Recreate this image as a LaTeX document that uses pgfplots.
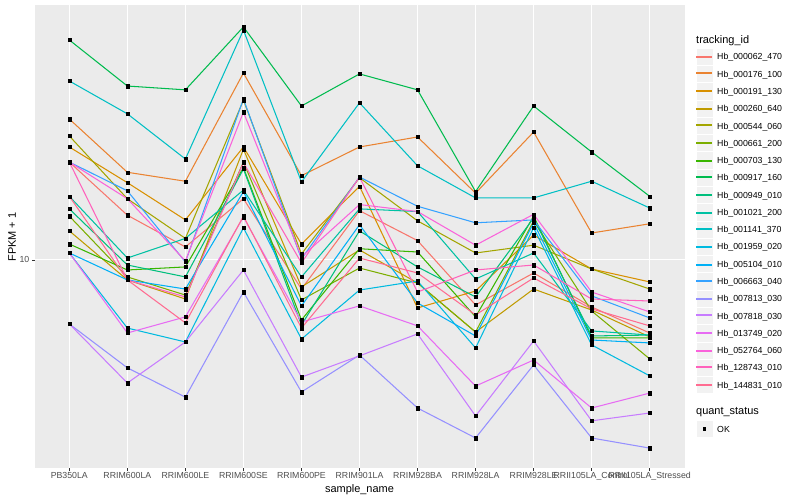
\documentclass[border=0pt]{standalone}
\usepackage{pgfplots}
\pgfplotsset{compat=1.18}
\usepackage{pgfplotstable}
\usepackage{fontspec}
\setmainfont{Liberation Sans}
\definecolor{c1}{HTML}{F8766D}
\definecolor{c2}{HTML}{EA8331}
\definecolor{c3}{HTML}{D89000}
\definecolor{c4}{HTML}{C09B00}
\definecolor{c5}{HTML}{A3A500}
\definecolor{c6}{HTML}{7CAE00}
\definecolor{c7}{HTML}{39B600}
\definecolor{c8}{HTML}{00BB4E}
\definecolor{c9}{HTML}{00BF7D}
\definecolor{c10}{HTML}{00C1A3}
\definecolor{c11}{HTML}{00BFC4}
\definecolor{c12}{HTML}{00BAE0}
\definecolor{c13}{HTML}{00B0F6}
\definecolor{c14}{HTML}{35A2FF}
\definecolor{c15}{HTML}{9590FF}
\definecolor{c16}{HTML}{C77CFF}
\definecolor{c17}{HTML}{E76BF3}
\definecolor{c18}{HTML}{FA62DB}
\definecolor{c19}{HTML}{FF62BC}
\definecolor{c20}{HTML}{FF6C91}
\definecolor{gbg}{HTML}{EBEBEB}
\definecolor{gkey}{HTML}{F2F2F2}
\definecolor{g30}{HTML}{4D4D4D}
\definecolor{g20}{HTML}{333333}
\newcommand\tickfont{\fontsize{8.8}{10}\selectfont}
\newcommand\titlefont{\fontsize{11}{13}\selectfont}
\pgfplotstableread{
x s1 s2 s3 s4 s5 s6 s7 s8 s9 s10 s11 s12 s13 s14 s15 s16 s17 s18 s19 s20
0 21.2 29.5 23.8 12.5 25.9 14.0 11.3 54.1 14.8 16.3 39.5 10.55 10.55 21.2 6.12 6.12 10.55 21.2 21.2 16.3
1 14.1 19.6 18.1 8.58 16.0 8.78 9.26 38.0 9.62 10.15 30.7 5.93 8.58 17.0 4.37 3.89 5.71 16.0 8.58 8.58
2 11.05 18.3 13.6 7.41 11.8 7.64 9.48 36.9 8.78 11.8 21.7 5.33 8.00 9.85 3.49 5.33 6.46 9.92 7.53 6.17
3 16.0 42.0 23.8 23.4 34.1 21.2 20.3 59.8 20.1 17.1 58.4 12.8 16.9 34.4 7.82 9.26 13.9 31.1 21.1 14.0
4 8.00 19.1 11.3 8.13 10.47 7.36 6.31 32.6 6.07 8.78 18.2 5.45 7.03 10.08 3.63 4.07 6.21 10.23 9.77 5.93
5 14.6 23.8 17.6 10.8 18.8 9.40 10.9 41.7 12.5 14.8 33.4 7.94 13.1 18.9 4.82 4.79 7.03 15.3 18.9 10.15
6 11.6 25.7 6.92 8.38 13.5 8.38 10.63 36.9 9.48 14.5 20.6 8.51 7.19 15.1 3.21 5.67 6.03 14.5 7.82 9.05
7 7.08 16.7 7.88 5.75 10.55 5.75 6.46 16.9 7.53 8.64 16.1 5.09 5.58 13.3 2.55 3.02 3.80 11.2 9.26 6.56
8 9.05 26.7 12.1 8.00 11.2 13.5 14.0 32.6 13.8 10.55 16.1 12.8 13.3 13.6 4.47 5.37 4.64 14.2 9.62 8.71
9 6.97 12.3 9.33 6.81 9.33 6.76 5.50 22.9 5.58 5.80 18.3 5.21 5.41 7.59 2.55 2.91 3.21 7.82 7.41 6.87
10 5.71 13.2 8.45 5.54 8.00 4.68 5.50 16.3 5.62 5.62 14.9 4.11 5.29 6.41 2.36 3.09 3.60 6.71 7.30 6.03
}\data
\begin{document}
\begin{tikzpicture}
\path[use as bounding box] (-34.5bp,-31.5bp) rectangle (765.5bp,468.5bp);
\begin{axis}[
  scale only axis, width=650bp, height=463bp,
  xmin=-0.6, xmax=10.6,
  ymode=log, ymin=2.018, ymax=70.5,
  axis background/.style={fill=gbg},
  axis line style={draw=none},
  xtick={0,...,10},
  xticklabels={PB350LA,RRIM600LA,RRIM600LE,RRIM600SE,RRIM600PE,RRIM901LA,RRIM928BA,RRIM928LA,RRIM928LE,RRII105LA\_Control,RRII105LA\_Stressed},
  ytick={10}, yticklabels={10},
  yminorticks=false, xminorticks=false,
  grid=major, major grid style={white, line width=1.07bp},
  tick align=outside, tick pos=left,
  major tick length=2.75bp,
  every tick/.style={g20, line width=0.5bp},
  /pgf/number format/assume math mode=true,
  xticklabel style={font=\tickfont, text=g30, inner sep=0pt, yshift=-0.8bp},
  yticklabel style={font=\tickfont, text=g30, inner sep=0pt, xshift=-2.2bp},
  xlabel={sample\_name}, ylabel={FPKM + 1},
  xlabel style={font=\titlefont, at={(axis description cs:0.5,-0.0464)}, anchor=center},
  ylabel style={font=\titlefont, at={(axis description cs:-0.0346,0.5)}, anchor=center},
]
\pgfplotsinvokeforeach{1,...,20}{
  \addplot[c#1, line width=1.05bp, mark=none] table[x=x,y=s#1]{\data};
}
\pgfplotsinvokeforeach{1,...,20}{
  \addplot[only marks, mark=square*, mark size=1.6bp, black, mark options={line width=0.2bp}] table[x=x,y=s#1]{\data};
}
\end{axis}
\node[anchor=base west, inner sep=0pt, font=\titlefont] at (661.5bp,424.9bp) {tracking\_id};
\foreach \k/\name [count=\i from 0] in {1/Hb\_000062\_470,2/Hb\_000176\_100,3/Hb\_000191\_130,4/Hb\_000260\_640,5/Hb\_000544\_060,6/Hb\_000661\_200,7/Hb\_000703\_130,8/Hb\_000917\_160,9/Hb\_000949\_010,10/Hb\_001021\_200,11/Hb\_001141\_370,12/Hb\_001959\_020,13/Hb\_005104\_010,14/Hb\_006663\_040,15/Hb\_007813\_030,16/Hb\_007818\_030,17/Hb\_013749\_020,18/Hb\_052764\_060,19/Hb\_128743\_010,20/Hb\_144831\_010}{
  \pgfmathsetmacro\yy{411.8-17.28*\i}
  \pgfmathsetmacro\ly{467.5-2*round((55.7+17.28*\i)/2)}
  \fill[gkey, draw=white, line width=0.5bp] (661.5bp,\yy bp-8.64bp) rectangle (678.78bp,\yy bp+8.64bp);
  \fill[fill=c\k] (661.5bp,\ly bp-1bp) rectangle (677.5bp,\ly bp+1bp);
  \node[anchor=base west, inner sep=0pt, font=\tickfont] at (682.5bp,\yy bp-3.2bp) {\name};
}
\node[anchor=base west, inner sep=0pt, font=\titlefont] at (661.5bp,53.6bp) {quant\_status};
\fill[gkey, draw=white, line width=0.5bp] (661.5bp,30.86bp) rectangle (678.78bp,48.14bp);
\fill[black] (668.4bp,37.8bp) rectangle (671.8bp,41.2bp);
\node[anchor=base west, inner sep=0pt, font=\tickfont] at (682.5bp,36.3bp) {OK};
\end{tikzpicture}
\end{document}
